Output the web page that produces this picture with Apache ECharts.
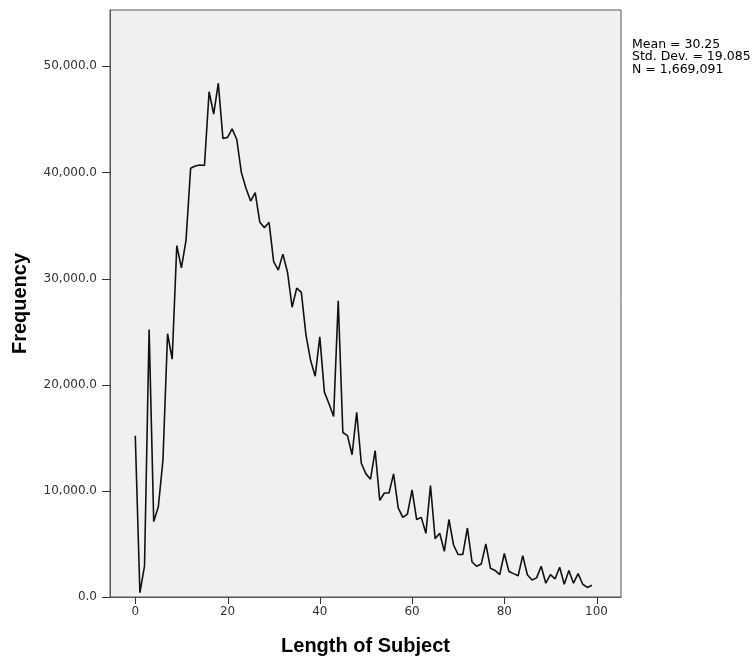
<!DOCTYPE html>
<html>
<head>
<meta charset="utf-8">
<script src="https://cdn.jsdelivr.net/npm/echarts@6/dist/echarts.min.js"></script>
<style>
html,body{margin:0;padding:0;background:#fff;}
#chart{width:755px;height:661px;}
</style>
</head>
<body>
<div id="chart"></div>
<script>
// Length of subject (x) and frequency (y)
var lengths = [];
for (var i = 0; i <= 99; i++) lengths.push(i);
var frequency = [
  15200, 400, 2900, 25200, 7100, 8500, 12900, 24800, 22400, 33100,
  31000, 33600, 40400, 40600, 40700, 40650, 47600, 45500, 48400, 43200,
  43300, 44100, 43100, 40000, 38500, 37300, 38100, 35300, 34800, 35300,
  31600, 30800, 32300, 30600, 27300, 29100, 28700, 24700, 22300, 20800,
  24500, 19300, 18200, 17000, 27900, 15500, 15200, 13400, 17400, 12600,
  11600, 11100, 13800, 9100, 9800, 9800, 11600, 8400, 7500, 7800,
  10100, 7300, 7500, 6000, 10500, 5500, 6000, 4300, 7300, 4900,
  4000, 4000, 6500, 3300, 2900, 3100, 5000, 2700, 2500, 2100,
  4100, 2400, 2200, 2000, 3900, 2100, 1600, 1800, 2900, 1300,
  2100, 1700, 2800, 1200, 2500, 1300, 2200, 1200, 900, 1100
];
var xTicks = [0, 20, 40, 60, 80, 100];
var yTicks = [0, 10000, 20000, 30000, 40000, 50000];
var statsLines = ['Mean = 30.25', 'Std. Dev. = 19.085', 'N = 1,669,091'];

var X_MIN = -5.48, X_MAX = 105.3, Y_MIN = 0, Y_MAX = 55300;
var pts = lengths.map(function (x, i) { return [x, frequency[i]]; });

var chart = echarts.init(document.getElementById('chart'));
var titleFont = 'Liberation Sans, Arial, sans-serif';
var smallFont = 'DejaVu Sans, sans-serif';
var statsGraphics = statsLines.map(function (t, i) {
  return {
    id: 'stat' + i, type: 'text', left: 632, top: 38 + i * 12.5,
    style: { text: t, fontFamily: smallFont, fontSize: 12.5, fill: '#000' }
  };
});
chart.setOption({
  animation: false,
  backgroundColor: '#ffffff',
  grid: {
    left: 110, right: 134, top: 10, bottom: 63,
    show: true, backgroundColor: '#f0f0f0', borderColor: '#555555', borderWidth: 1
  },
  xAxis: [{
    type: 'value', min: X_MIN, max: X_MAX,
    name: 'Length of Subject', nameLocation: 'middle', nameGap: 39,
    nameTextStyle: { fontFamily: titleFont, fontSize: 20, fontWeight: 'bold', color: '#000' },
    splitLine: { show: false },
    axisLine: { show: true, lineStyle: { color: '#555555', width: 1 } },
    axisTick: { show: false },
    axisLabel: { customValues: xTicks, fontFamily: smallFont, fontSize: 12, color: '#333', margin: 9 }
  }, {
    type: 'value', min: 1, max: 2, show: false
  }],
  yAxis: {
    type: 'value', min: Y_MIN, max: Y_MAX, interval: 10000,
    name: 'Frequency', nameLocation: 'middle', nameGap: 80,
    nameTextStyle: { fontFamily: titleFont, fontSize: 20, fontWeight: 'bold', color: '#000' },
    splitLine: { show: false },
    axisLine: { show: true, onZeroAxisIndex: 1, lineStyle: { color: '#555555', width: 1 } },
    axisTick: { show: false },
    axisLabel: {
      showMaxLabel: false,
      fontFamily: smallFont, fontSize: 12, color: '#333', margin: 13,
      formatter: function (v) { return Number(v).toLocaleString('en-US') + '.0'; }
    }
  },
  graphic: statsGraphics,
  series: [{
    type: 'line', xAxisIndex: 0, data: pts, showSymbol: false, symbol: 'none',
    lineStyle: { color: '#111', width: 1.6 }
  }]
});

// Tick marks, placed through the chart's own axis scales
var tickGraphics = [];
xTicks.forEach(function (v, i) {
  var p = chart.convertToPixel({ xAxisIndex: 0, yAxisIndex: 0 }, [v, Y_MIN]);
  var x = Math.round(p[0]) + 0.5;
  tickGraphics.push({
    id: 'xt' + i, type: 'line', z: 100,
    shape: { x1: x, y1: Math.round(p[1]), x2: x, y2: Math.round(p[1]) + 7 },
    style: { stroke: '#333', lineWidth: 1 }
  });
});
yTicks.forEach(function (v, i) {
  var p = chart.convertToPixel({ xAxisIndex: 0, yAxisIndex: 0 }, [X_MIN, v]);
  var y = Math.round(p[1]) + 0.5;
  tickGraphics.push({
    id: 'yt' + i, type: 'line', z: 100,
    shape: { x1: Math.round(p[0]) - 8, y1: y, x2: Math.round(p[0]), y2: y },
    style: { stroke: '#333', lineWidth: 1 }
  });
});
chart.setOption({ graphic: statsGraphics.concat(tickGraphics) });
</script>
</body>
</html>
